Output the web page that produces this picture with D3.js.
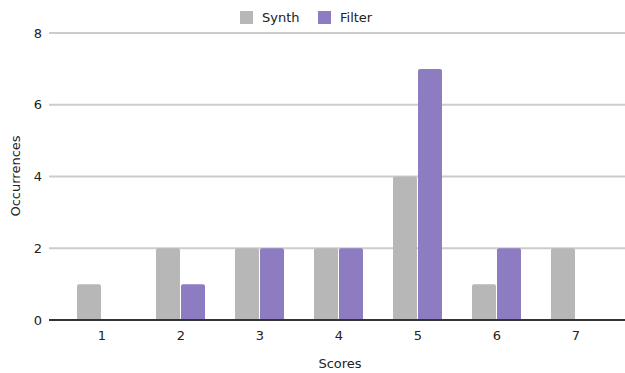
<!DOCTYPE html>
<html>
<head>
<meta charset="utf-8">
<script src="https://cdn.jsdelivr.net/npm/d3@7"></script>
<style>
  body { margin: 0; background: #fff; }
  svg { display: block; font-family: "DejaVu Sans", sans-serif; }
</style>
</head>
<body>
<svg id="chart" width="625" height="373"></svg>
<script>
const categories = ["1", "2", "3", "4", "5", "6", "7"];
const seriesNames = ["Synth", "Filter"];
const synthValues = [1, 2, 2, 2, 4, 1, 2];
const filterValues = [0, 1, 2, 2, 7, 2, 0];
const yTicks = [0, 2, 4, 6, 8];
const colors = ["#b7b7b7", "#8e7cc3"];

const svg = d3.select("#chart");
const W = 625, H = 373;
const margin = { left: 49, right: 0, top: 33, bottom: 53 };
const plotRight = W - margin.right;
const plotBottom = H - margin.bottom;

const x = d3.scaleBand()
  .domain(categories)
  .range([62.5, 615.5])
  .padding(0);
const y = d3.scaleLinear().domain([0, 8]).range([plotBottom, margin.top]);

// gridlines
svg.append("g")
  .selectAll("line")
  .data(yTicks.filter(t => t !== 0))
  .join("line")
  .attr("x1", margin.left).attr("x2", plotRight)
  .attr("y1", d => y(d)).attr("y2", d => y(d))
  .attr("stroke", "#cccccc").attr("stroke-width", 2);

// y tick labels
svg.append("g")
  .selectAll("text")
  .data(yTicks)
  .join("text")
  .attr("x", 42).attr("y", d => y(d))
  .attr("dy", "0.35em")
  .attr("text-anchor", "end")
  .attr("font-size", 13).attr("fill", "#222")
  .text(d => d);

// bars
const barW = 24;
const rows = categories.map((c, i) => ({ c, vals: [synthValues[i], filterValues[i]] }));
const offsets = [-barW - 1, 0];
function barPath(x0, y0, w, h, r) {
  r = Math.min(r, h / 2, w / 2);
  return `M${x0},${y0 + h}V${y0 + r}Q${x0},${y0} ${x0 + r},${y0}H${x0 + w - r}Q${x0 + w},${y0} ${x0 + w},${y0 + r}V${y0 + h}Z`;
}
const g = svg.append("g");
rows.forEach(row => {
  const cx = x(row.c) + x.bandwidth() / 2;
  row.vals.forEach((v, si) => {
    if (v <= 0) return;
    const x0 = cx + offsets[si];
    g.append("path")
      .attr("d", barPath(x0, y(v), barW, y(0) - y(v), 2))
      .attr("fill", colors[si]);
  });
});

// baseline
svg.append("line")
  .attr("x1", margin.left).attr("x2", plotRight)
  .attr("y1", y(0)).attr("y2", y(0))
  .attr("stroke", "#333333").attr("stroke-width", 2);

// x tick labels
svg.append("g")
  .selectAll("text")
  .data(categories)
  .join("text")
  .attr("x", d => x(d) + x.bandwidth() / 2)
  .attr("y", 340)
  .attr("text-anchor", "middle")
  .attr("font-size", 13).attr("fill", "#222")
  .text(d => d);

// axis titles
svg.append("text")
  .attr("x", 340).attr("y", 368)
  .attr("text-anchor", "middle")
  .attr("font-size", 13).attr("fill", "#222")
  .text("Scores");
svg.append("text")
  .attr("transform", "translate(20,176) rotate(-90)")
  .attr("text-anchor", "middle")
  .attr("font-size", 13).attr("fill", "#222")
  .text("Occurrences");

// legend
const legendItems = [
  { name: seriesNames[0], color: colors[0], x: 240 },
  { name: seriesNames[1], color: colors[1], x: 318 }
];
const lg = svg.append("g");
legendItems.forEach(it => {
  lg.append("rect").attr("x", it.x).attr("y", 11).attr("width", 13).attr("height", 13)
    .attr("fill", it.color);
  lg.append("text").attr("x", it.x + 22).attr("y", 22)
    .attr("font-size", 13).attr("fill", "#222").text(it.name);
});
</script>
</body>
</html>
